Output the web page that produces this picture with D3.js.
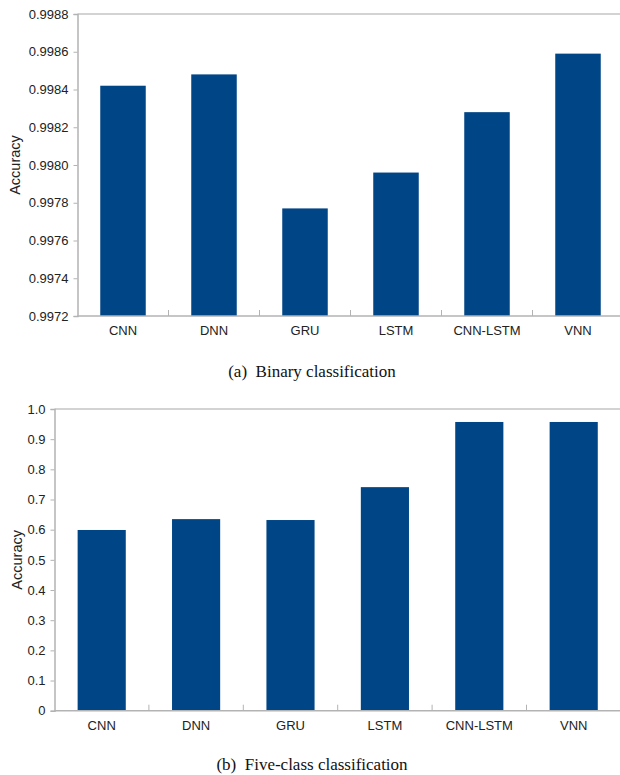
<!DOCTYPE html>
<html>
<head>
<meta charset="utf-8">
<script src="https://cdn.jsdelivr.net/npm/d3@7/dist/d3.min.js"></script>
<style>
  html, body { margin: 0; padding: 0; background: #fff; }
  svg { display: block; }
  .tick text { font-family: "Liberation Sans", Arial, sans-serif; font-size: 13px; fill: #222; }
  .caption { font-family: "Liberation Serif", "Times New Roman", serif; font-size: 17px; fill: #111; white-space: pre; }
  .ylab { font-family: "Liberation Sans", Arial, sans-serif; font-size: 14.5px; fill: #222; }
</style>
</head>
<body>
<svg id="chart" width="620" height="775"></svg>
<script>
const categories = ["CNN", "DNN", "GRU", "LSTM", "CNN-LSTM", "VNN"];
const binaryAccuracy = [0.99842, 0.99848, 0.99777, 0.99796, 0.99828, 0.99859];
const fiveClassAccuracy = [0.599, 0.635, 0.632, 0.741, 0.957, 0.957];
const binaryTicks = [0.9972, 0.9974, 0.9976, 0.9978, 0.9980, 0.9982, 0.9984, 0.9986, 0.9988];
const fiveClassTicks = [0, 0.1, 0.2, 0.3, 0.4, 0.5, 0.6, 0.7, 0.8, 0.9, 1.0];
const captions = ["(a)  Binary classification", "(b)  Five-class classification"];

const svg = d3.select("#chart");
const barColor = "#004586";
const axisColor = "#b3b3b3";

function drawPanel(cfg) {
  const g = svg.append("g");
  const x = d3.scaleBand().domain(categories)
    .range([cfg.left, cfg.left + cfg.step * categories.length])
    .paddingInner(cfg.padIn).paddingOuter(cfg.padIn / 2);
  const y = d3.scaleLinear().domain(cfg.domain).range([cfg.bottom, cfg.top]);

  g.append("line")
    .attr("x1", cfg.left).attr("x2", 620)
    .attr("y1", cfg.top).attr("y2", cfg.top)
    .attr("stroke", "#c4c4c4").attr("stroke-width", 1.5);

  g.selectAll("rect.bar").data(cfg.values).enter().append("rect")
    .attr("class", "bar")
    .attr("x", (d, i) => x(categories[i]))
    .attr("width", x.bandwidth())
    .attr("y", d => y(d))
    .attr("height", d => cfg.bottom - y(d))
    .attr("fill", barColor);

  const yAxis = d3.axisLeft(y).tickValues(cfg.ticks).tickFormat(cfg.fmt)
    .tickSize(4).tickPadding(5);
  const ya = g.append("g").attr("transform", `translate(${cfg.left},0)`).call(yAxis);
  ya.select(".domain").attr("stroke", axisColor).attr("stroke-width", 1.5);
  ya.selectAll(".tick line").attr("stroke", axisColor).attr("stroke-width", 1);

  const xAxis = d3.axisBottom(x).tickSize(0).tickPadding(10);
  const xa = g.append("g").attr("transform", `translate(0,${cfg.bottom})`).call(xAxis);
  xa.select(".domain").remove();
  xa.selectAll(".tick text").attr("dy", "0.71em");
  g.append("line")
    .attr("x1", cfg.left).attr("x2", 620)
    .attr("y1", cfg.bottom).attr("y2", cfg.bottom)
    .attr("stroke", axisColor).attr("stroke-width", 1.5);
  g.selectAll("line.sep").data(categories.slice(1)).enter().append("line")
    .attr("class", "sep")
    .attr("x1", d => x(d) - x.step() * x.paddingInner() / 2)
    .attr("x2", d => x(d) - x.step() * x.paddingInner() / 2)
    .attr("y1", cfg.bottom).attr("y2", cfg.bottom - 6)
    .attr("stroke", axisColor).attr("stroke-width", 1);

  g.append("text").attr("class", "ylab")
    .attr("transform", `translate(${cfg.ylabX},${(cfg.top + cfg.bottom) / 2}) rotate(-90)`)
    .attr("text-anchor", "middle")
    .text("Accuracy");

  g.append("text").attr("class", "caption")
    .attr("x", 312).attr("y", cfg.captionY)
    .attr("text-anchor", "middle")
    .text(cfg.caption);
}

drawPanel({
  left: 77.5, top: 14, bottom: 316, step: 91, padIn: 0.5,
  domain: [0.9972, 0.9988], ticks: binaryTicks, fmt: d3.format(".4f"),
  values: binaryAccuracy, ylabX: 20, caption: captions[0], captionY: 377
});

drawPanel({
  left: 54.5, top: 409, bottom: 710.7, step: 94.4, padIn: 0.49,
  domain: [0, 1], ticks: fiveClassTicks, fmt: d => d === 0 ? "0" : d3.format(".1f")(d),
  values: fiveClassAccuracy, ylabX: 22, caption: captions[1], captionY: 769.5
});
</script>
</body>
</html>
